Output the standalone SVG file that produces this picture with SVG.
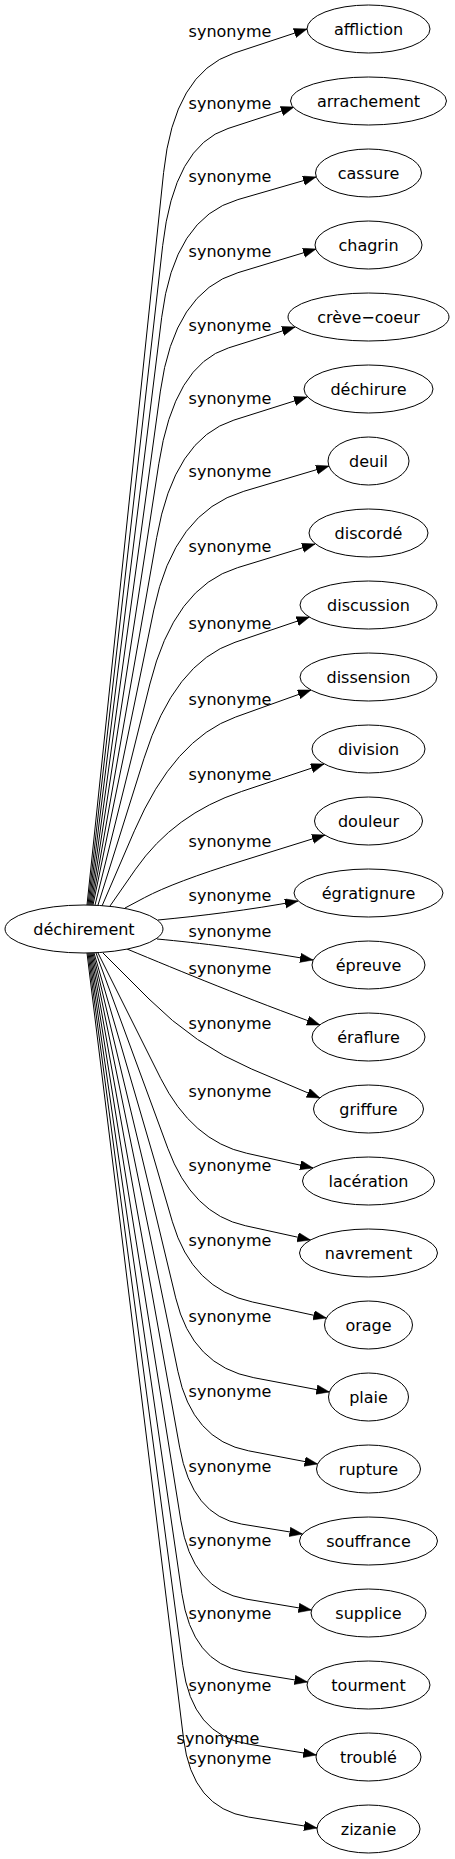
<svg xmlns="http://www.w3.org/2000/svg" width="455" height="1859" viewBox="0 0 455 1859">
<style>
text{font-family:"DejaVu Sans","Liberation Sans",sans-serif;font-size:16px;fill:#000;text-anchor:middle}
ellipse{fill:#fff;stroke:#000;stroke-width:1}
.e path{fill:none;stroke:#000;stroke-width:1;marker-end:url(#ah)}
</style>
<defs>
<marker id="ah" markerWidth="14" markerHeight="10" refX="13" refY="4.7" orient="auto" markerUnits="userSpaceOnUse"><path d="M0,0 L13,4.7 L0,9.4 z" fill="#000" stroke="#000" stroke-width="0.5"/></marker>
</defs>
<rect width="455" height="1859" fill="#fff"/>
<g id="edges" class="e">
<g id="e0"><path d="M87,905 L163.6,172.5 Q174,73 233.9,53.2 L307,29"/><text x="230" y="37">synonyme</text></g>
<g id="e1"><path d="M88,905 L162.7,245.4 Q174,146 228,128.5 L294,107"/><text x="230" y="109">synonyme</text></g>
<g id="e2"><path d="M89,905 L161.7,317.3 Q174,218 237.9,199.6 L316,177"/><text x="230" y="182">synonyme</text></g>
<g id="e3"><path d="M90,905 L160.4,391.1 Q174,292 237.9,272.7 L316,249"/><text x="230" y="257">synonyme</text></g>
<g id="e4"><path d="M91,905 L158.8,463.8 Q174,365 228.5,347.9 L295,327"/><text x="230" y="330.5">synonyme</text></g>
<g id="e5"><path d="M92,905 L156.7,537.5 Q174,439 233.9,420.1 L307,397"/><text x="230" y="404">synonyme</text></g>
<g id="e6"><path d="M93,905 L153.8,609.9 Q174,512 243.8,491.3 L329,466"/><text x="230" y="477">synonyme</text></g>
<g id="e7"><path d="M95,905 L149.9,684 Q174,587 237.5,567.7 L315,544"/><text x="230" y="552">synonyme</text></g>
<g id="e8"><path d="M98,905 L144,758.4 Q174,663 235,642.3 L309.5,617"/><text x="230" y="628.5">synonyme</text></g>
<g id="e9"><path d="M102,906 L134.4,830.8 Q174,739 235.7,717 L311,690"/><text x="230" y="704.5">synonyme</text></g>
<g id="e10"><path d="M110,906 L135.6,869.2 Q174,814 241.5,791.5 L324,764"/><text x="230" y="779.5">synonyme</text></g>
<g id="e11"><path d="M125,908 L144.6,897.6 Q174,882 242,860.9 L325,835"/><text x="230" y="847">synonyme</text></g>
<g id="e12"><path d="M158,920 C200,916 250,910 298,901"/><text x="230" y="900.5">synonyme</text></g>
<g id="e13"><path d="M157,939 C200,943 250,949 313,960"/><text x="230" y="937">synonyme</text></g>
<g id="e14"><path d="M127,949 C180,971 250,1000 320,1025"/><text x="230" y="974">synonyme</text></g>
<g id="e15"><path d="M103,953 L149,999 Q195,1045 251.3,1068.9 L320,1098"/><text x="230" y="1029">synonyme</text></g>
<g id="e16"><path d="M98,953 L160.7,1078.4 Q192,1141 246.5,1153.2 L313,1168"/><text x="230" y="1097">synonyme</text></g>
<g id="e17"><path d="M96,953 L167.8,1148.3 Q192,1214 245.3,1225.7 L310.5,1240"/><text x="230" y="1170.5">synonyme</text></g>
<g id="e18"><path d="M94,953 L172.4,1221.8 Q192,1289 252.5,1302 L326.4,1318"/><text x="230" y="1245.5">synonyme</text></g>
<g id="e19"><path d="M93,953 L175.7,1297.9 Q192,1366 253.8,1377.7 L329.4,1392"/><text x="230" y="1322">synonyme</text></g>
<g id="e20"><path d="M92,953 L177.9,1371.4 Q192,1440 248.5,1450.8 L317.6,1464"/><text x="230" y="1396.5">synonyme</text></g>
<g id="e21"><path d="M91,953 L179.6,1447.1 Q192,1516 241.7,1524.1 L302.5,1534"/><text x="230" y="1472">synonyme</text></g>
<g id="e22"><path d="M90,953 L180.9,1520.9 Q192,1590 245.8,1599 L311.5,1610"/><text x="230" y="1545.5">synonyme</text></g>
<g id="e23"><path d="M89,953 L181.9,1593.7 Q192,1663 244,1671.6 L307.5,1682"/><text x="230" y="1619">synonyme</text></g>
<g id="e24"><path d="M88,953 L182.8,1665.6 Q192,1735 247.9,1744 L316.2,1755"/><text x="230" y="1691">synonyme</text></g>
<g id="e25"><text x="218" y="1744">synonyme</text></g>
<g id="e26"><path d="M87,953 L183.5,1738.5 Q192,1808 248.3,1817 L317,1828"/><text x="230" y="1764">synonyme</text></g>
</g>
<g id="n-dechirement"><ellipse cx="84" cy="929" rx="79" ry="24"/><text x="84" y="934.5">déchirement</text></g>
<g id="n-affliction"><ellipse cx="368.5" cy="29" rx="61.5" ry="24"/><text x="368.5" y="34.5">affliction</text></g>
<g id="n-arrachement"><ellipse cx="368.5" cy="101" rx="78" ry="24"/><text x="368.5" y="106.5">arrachement</text></g>
<g id="n-cassure"><ellipse cx="368.5" cy="173" rx="53" ry="24"/><text x="368.5" y="178.5">cassure</text></g>
<g id="n-chagrin"><ellipse cx="368.5" cy="245" rx="53.5" ry="24"/><text x="368.5" y="250.5">chagrin</text></g>
<g id="n-creve-coeur"><ellipse cx="368.5" cy="317" rx="80.5" ry="24"/><text x="368.5" y="322.5">crève−coeur</text></g>
<g id="n-dechirure"><ellipse cx="368.5" cy="389" rx="64.5" ry="24"/><text x="368.5" y="394.5">déchirure</text></g>
<g id="n-deuil"><ellipse cx="368.5" cy="461" rx="40.5" ry="24"/><text x="368.5" y="466.5">deuil</text></g>
<g id="n-discorde"><ellipse cx="368.5" cy="533" rx="59.5" ry="24"/><text x="368.5" y="538.5">discordé</text></g>
<g id="n-discussion"><ellipse cx="368.5" cy="605" rx="68.5" ry="24"/><text x="368.5" y="610.5">discussion</text></g>
<g id="n-dissension"><ellipse cx="368.5" cy="677" rx="68.5" ry="24"/><text x="368.5" y="682.5">dissension</text></g>
<g id="n-division"><ellipse cx="368.5" cy="749" rx="56.5" ry="24"/><text x="368.5" y="754.5">division</text></g>
<g id="n-douleur"><ellipse cx="368.5" cy="821" rx="54" ry="24"/><text x="368.5" y="826.5">douleur</text></g>
<g id="n-egratignure"><ellipse cx="368.5" cy="893" rx="74.5" ry="24"/><text x="368.5" y="898.5">égratignure</text></g>
<g id="n-epreuve"><ellipse cx="368.5" cy="965" rx="56.5" ry="24"/><text x="368.5" y="970.5">épreuve</text></g>
<g id="n-eraflure"><ellipse cx="368.5" cy="1037" rx="56.5" ry="24"/><text x="368.5" y="1042.5">éraflure</text></g>
<g id="n-griffure"><ellipse cx="368.5" cy="1109" rx="55" ry="24"/><text x="368.5" y="1114.5">griffure</text></g>
<g id="n-laceration"><ellipse cx="368.5" cy="1181" rx="66" ry="24"/><text x="368.5" y="1186.5">lacération</text></g>
<g id="n-navrement"><ellipse cx="368.5" cy="1253" rx="69" ry="24"/><text x="368.5" y="1258.5">navrement</text></g>
<g id="n-orage"><ellipse cx="368.5" cy="1325" rx="44" ry="24"/><text x="368.5" y="1330.5">orage</text></g>
<g id="n-plaie"><ellipse cx="368.5" cy="1397" rx="40" ry="24"/><text x="368.5" y="1402.5">plaie</text></g>
<g id="n-rupture"><ellipse cx="368.5" cy="1469" rx="52" ry="24"/><text x="368.5" y="1474.5">rupture</text></g>
<g id="n-souffrance"><ellipse cx="368.5" cy="1541" rx="69" ry="24"/><text x="368.5" y="1546.5">souffrance</text></g>
<g id="n-supplice"><ellipse cx="368.5" cy="1613" rx="57.5" ry="24"/><text x="368.5" y="1618.5">supplice</text></g>
<g id="n-tourment"><ellipse cx="368.5" cy="1685" rx="61.5" ry="24"/><text x="368.5" y="1690.5">tourment</text></g>
<g id="n-trouble"><ellipse cx="368.5" cy="1757" rx="52.5" ry="24"/><text x="368.5" y="1762.5">troublé</text></g>
<g id="n-zizanie"><ellipse cx="368.5" cy="1829" rx="51.5" ry="24"/><text x="368.5" y="1834.5">zizanie</text></g>
</svg>
